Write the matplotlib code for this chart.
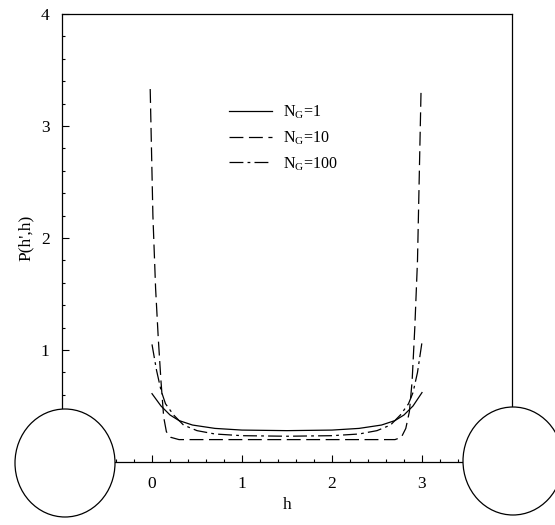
import matplotlib
matplotlib.use("Agg")
import matplotlib.pyplot as plt
from matplotlib.patches import Ellipse
from matplotlib.ticker import MultipleLocator

plt.rcParams['font.family'] = ['Liberation Serif', 'DejaVu Serif']
plt.rcParams['mathtext.fontset'] = 'custom'
plt.rcParams['mathtext.rm'] = 'Liberation Serif'
plt.rcParams['lines.scale_dashes'] = False

# N_G = 1 (solid)
h1 = [0.0, 0.1, 0.2, 0.3, 0.45, 0.7, 1.0, 1.5, 2.0, 2.3, 2.55, 2.7, 2.8, 2.9, 3.0]
p1 = [0.61, 0.50, 0.42, 0.37, 0.33, 0.30, 0.285, 0.28, 0.285, 0.30, 0.33, 0.37, 0.42, 0.50, 0.62]

# N_G = 10 (dashed)
h10 = [-0.02, 0.01, 0.04, 0.07, 0.10, 0.13, 0.16, 0.21, 0.3, 0.6, 1.5, 2.4, 2.7, 2.77,
       2.82, 2.86, 2.89, 2.92, 2.95, 2.99]
p10 = [3.33, 2.2, 1.55, 1.1, 0.72, 0.4, 0.27, 0.22, 0.2, 0.2, 0.2, 0.2, 0.2, 0.22,
       0.3, 0.45, 0.72, 1.2, 1.8, 3.34]

# N_G = 100 (dash-dot)
h100 = [0.0, 0.05, 0.1, 0.15, 0.24, 0.35, 0.5, 0.7, 1.0, 1.5, 2.0, 2.3, 2.5, 2.65,
        2.76, 2.85, 2.9, 2.95, 3.0]
p100 = [1.05, 0.82, 0.64, 0.52, 0.42, 0.33, 0.28, 0.25, 0.235, 0.23, 0.235, 0.25, 0.28,
        0.33, 0.42, 0.52, 0.62, 0.8, 1.07]

labels = [r'N$_\mathregular{G}$=1', r'N$_\mathregular{G}$=10', r'N$_\mathregular{G}$=100']

fig = plt.figure(figsize=(5.55, 5.25), dpi=100)
ax = fig.add_axes([62 / 555, 1 - 462 / 525, 450 / 555, 448 / 525])

ax.plot(h1, p1, color='black', lw=0.9, label=labels[0])
ax.plot(h10, p10, color='black', lw=0.9, dashes=(10, 4), label=labels[1])
ax.plot(h100, p100, color='black', lw=0.9, dashes=(10, 3, 2, 3), label=labels[2])

ax.set_xlim(-1, 4)
ax.set_ylim(0, 4)
ax.set_xticks([0, 1, 2, 3])
ax.xaxis.set_minor_locator(MultipleLocator(0.2))
ax.yaxis.set_major_locator(MultipleLocator(1))
ax.yaxis.set_minor_locator(MultipleLocator(0.2))
ax.tick_params(which='both', direction='in', top=False, right=False, width=0.8)
ax.tick_params(which='major', length=5, labelsize=12.5)
ax.tick_params(axis='x', which='major', pad=10)
ax.tick_params(axis='y', which='major', pad=9)
ax.tick_params(which='minor', length=2.5)
for s in ax.spines.values():
    s.set_linewidth(0.9)

ax.set_xlabel('h', fontsize=12.5, labelpad=4)
ax.set_ylabel("P(h',h)", fontsize=12.5, labelpad=5)

ax.legend(loc='center left', bbox_to_anchor=(0.371, 0.723), frameon=False,
          borderpad=0, borderaxespad=0, handlelength=2.7, handletextpad=0.7,
          labelspacing=0.5, fontsize=11.5)

# round blobs at the lower corners of the scan
for cx, cy in [(65, 463), (513, 461)]:
    e = Ellipse((cx / 555, 1 - cy / 525), 100 / 555, 108 / 525, transform=fig.transFigure,
                facecolor='white', edgecolor='black', lw=0.9, zorder=10)
    fig.patches.append(e)

fig.savefig('out.png', dpi=100)
